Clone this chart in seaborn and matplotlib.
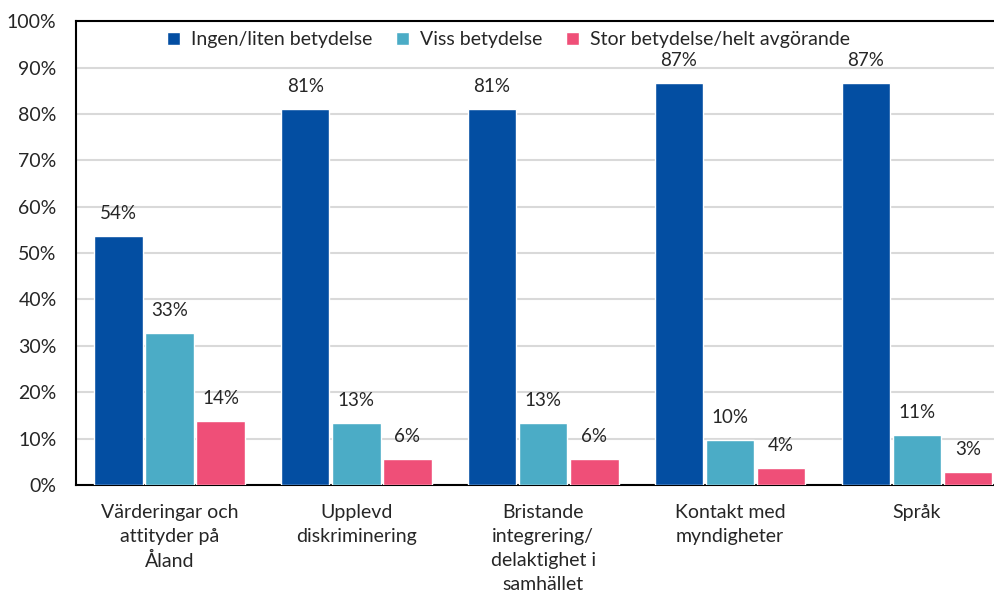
import pandas as pd
import seaborn as sns
import matplotlib.pyplot as plt
from matplotlib.ticker import PercentFormatter

# data (percent)
kategorier = ['Värderingar och\nattityder på\nÅland', 'Upplevd\ndiskriminering',
              'Bristande\nintegrering/\ndelaktighet i\nsamhället', 'Kontakt med\nmyndigheter', 'Språk']
serier = ['Ingen/liten betydelse', 'Viss betydelse', 'Stor betydelse/helt avgörande']
ingen = [53.7, 81.0, 81.0, 86.6, 86.6]
viss = [32.8, 13.4, 13.3, 9.7, 10.8]
stor = [13.8, 5.6, 5.6, 3.7, 2.8]
farger = ['#034EA2', '#4BACC6', '#EF4F78']

rows = []
for s, vals in zip(serier, [ingen, viss, stor]):
    for k, v in zip(kategorier, vals):
        rows.append({'kategori': k, 'serie': s, 'andel': v})
df = pd.DataFrame(rows)

sns.set_style('white')
plt.rcParams['font.family'] = ['Lato', 'DejaVu Sans']

fig = plt.figure(figsize=(9.95, 5.97), dpi=100)
ax = fig.add_axes([0.0764, 0.1876, 0.939, 0.777])

sns.barplot(data=df, x='kategori', y='andel', hue='serie', palette=farger, saturation=1,
            width=0.82, gap=0.05, edgecolor='white', linewidth=1, ax=ax, zorder=3)

for c in ax.containers:
    ax.bar_label(c, labels=[f'{v:.0f}%' for v in c.datavalues], padding=10, fontsize=13.5)

ax.set_ylim(0, 100)
ax.set_xlim(-0.5, 4.5)
ax.set_yticks(range(0, 101, 10))
ax.yaxis.set_major_formatter(PercentFormatter(decimals=0))
ax.grid(axis='y', color='#d9d9d9', linewidth=1.5, zorder=0)
ax.set_axisbelow(True)
ax.set_xlabel('')
ax.set_ylabel('')
ax.tick_params(axis='y', length=0, pad=14, labelsize=14)
ax.tick_params(axis='x', length=0, pad=14, labelsize=14)
for lbl in ax.get_xticklabels():
    lbl.set_linespacing(1.48)
    lbl.set_verticalalignment('top')
for side in ['left', 'bottom', 'top']:
    ax.spines[side].set_color('black')
    ax.spines[side].set_linewidth(1.5)
ax.spines['right'].set_visible(False)

ax.legend(loc='upper center', bbox_to_anchor=(0.463, 1.0), ncol=3, frameon=False,
          fontsize=14, handlelength=0.65, handleheight=0.65, handletextpad=0.6,
          columnspacing=1.2, borderaxespad=0.1)

fig.savefig('out.png', dpi=100)
